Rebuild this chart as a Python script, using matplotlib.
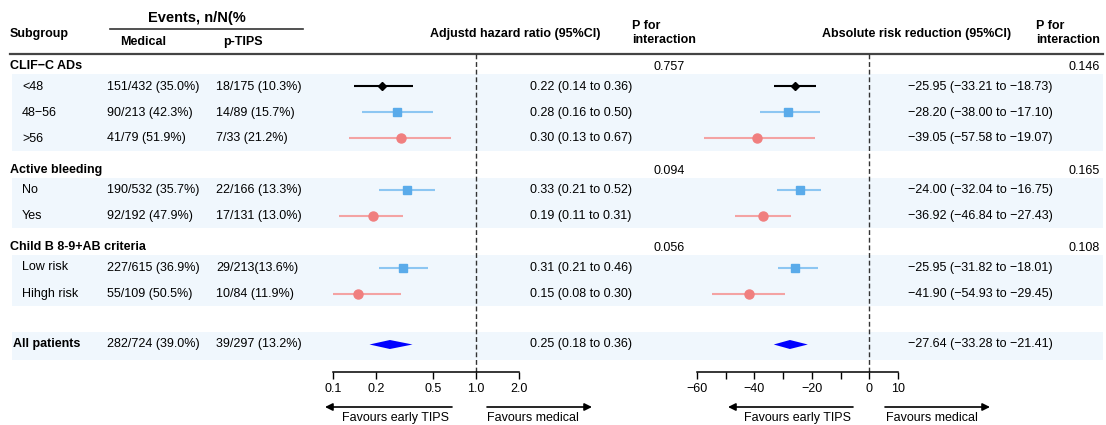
import matplotlib.pyplot as plt
from matplotlib.patches import Rectangle
from matplotlib.ticker import NullLocator

plt.rcParams['font.family'] = ['Liberation Sans', 'DejaVu Sans']

# ---- data ----
groups = ['CLIF\u2212C ADs', 'Active bleeding', 'Child B 8-9+AB criteria']
subgroups = [['<48', '48\u221256', '>56'], ['No', 'Yes'], ['Low risk', 'Hihgh risk']]
medical = [['151/432 (35.0%)', '90/213 (42.3%)', '41/79 (51.9%)'],
           ['190/532 (35.7%)', '92/192 (47.9%)'],
           ['227/615 (36.9%)', '55/109 (50.5%)']]
ptips = [['18/175 (10.3%)', '14/89 (15.7%)', '7/33 (21.2%)'],
         ['22/166 (13.3%)', '17/131 (13.0%)'],
         ['29/213(13.6%)', '10/84 (11.9%)']]
hr = [[0.22, 0.28, 0.30], [0.33, 0.19], [0.31, 0.15]]
hr_lo = [[0.14, 0.16, 0.13], [0.21, 0.11], [0.21, 0.08]]
hr_hi = [[0.36, 0.50, 0.67], [0.52, 0.31], [0.46, 0.30]]
arr = [[-25.95, -28.20, -39.05], [-24.00, -36.92], [-25.95, -41.90]]
arr_lo = [[-33.21, -38.00, -57.58], [-32.04, -46.84], [-31.82, -54.93]]
arr_hi = [[-18.73, -17.10, -19.07], [-16.75, -27.43], [-18.01, -29.45]]
p_hr = ['0.757', '0.094', '0.056']
p_arr = ['0.146', '0.165', '0.108']
kinds = [['k', 'b', 'r'], ['b', 'r'], ['b', 'r']]

all_medical = '282/724 (39.0%)'
all_ptips = '39/297 (13.2%)'
all_hr, all_hr_lo, all_hr_hi = 0.25, 0.18, 0.36
all_arr, all_arr_lo, all_arr_hi = -27.64, -33.28, -21.41

hr_ticks = [0.1, 0.2, 0.5, 1.0, 2.0]
hr_ticklabels = ['0.1', '0.2', '0.5', '1.0', '2.0']
arr_ticks = [-60, -50, -40, -30, -20, -10, 0, 10]
arr_ticklabels = ['\u221260', '', '\u221240', '', '\u221220', '', '0', '10']

# marker styles
styles = {'k': dict(marker='D', color='black', ms=4, lc='black'),
          'b': dict(marker='s', color='#5aabea', ms=6, lc='#8cc6f2'),
          'r': dict(marker='o', color='#f07f7f', ms=6.5, lc='#f4a3a3')}
band_color = '#f0f7fd'
FS = 9

W, H = 1106, 425
fig = plt.figure(figsize=(W / 100, H / 100), dpi=100)
bg = fig.add_axes([0, 0, 1, 1])
bg.set_xlim(0, W)
bg.set_ylim(H, 0)
bg.axis('off')

# forest axes placed in pixel layout
axis_y, top_y = 372, 54


def forest_axes(x0, x1):
    ax = fig.add_axes([x0 / W, (H - axis_y) / H, (x1 - x0) / W, (axis_y - top_y) / H])
    ax.set_facecolor('none')
    ax.set_ylim(axis_y, top_y)
    for s in ['top', 'left', 'right']:
        ax.spines[s].set_visible(False)
    ax.spines['bottom'].set_linewidth(1.1)
    ax.set_yticks([])
    ax.tick_params(axis='x', length=5, width=1.0, pad=3, labelsize=FS)
    return ax


ax1 = forest_axes(333, 519)
ax1.set_xscale('log')
ax1.set_xlim(0.1, 2.0)
ax1.set_xticks(hr_ticks)
ax1.set_xticklabels(hr_ticklabels)
ax1.xaxis.set_minor_locator(NullLocator())
ax1.axvline(1.0, color='#333333', lw=1, ls=(0, (3.5, 2)))

ax2 = forest_axes(697, 898)
ax2.set_xlim(-60, 10)
ax2.set_xticks(arr_ticks)
ax2.set_xticklabels(arr_ticklabels)
ax2.axvline(0, color='#333333', lw=1, ls=(0, (3.5, 2)))

# header
bg.text(197, 18, 'Events, n/N(%', fontsize=10.5, fontweight='bold', ha='center', va='center')
bg.plot([110, 303], [29, 29], color='#333333', lw=1.2)
bg.text(10, 34, 'Subgroup', fontsize=FS, fontweight='bold', va='center')
bg.text(143, 42, 'Medical', fontsize=FS, fontweight='bold', ha='center', va='center')
bg.text(243, 42, 'p-TIPS', fontsize=FS, fontweight='bold', ha='center', va='center')
bg.text(515, 34, 'Adjustd hazard ratio (95%CI)', fontsize=FS, fontweight='bold', ha='center', va='center')
bg.text(632, 33, 'P for\ninteraction', fontsize=FS, fontweight='bold', va='center', linespacing=1.25)
bg.text(917, 34, 'Absolute risk reduction (95%CI)', fontsize=FS, fontweight='bold', ha='center', va='center')
bg.text(1036, 33, 'P for\ninteraction', fontsize=FS, fontweight='bold', va='center', linespacing=1.25)
bg.plot([10, 1103], [54, 54], color='#444444', lw=1.6)

y = 66
for g in range(len(groups)):
    bg.text(10, y, groups[g], fontsize=FS, fontweight='bold', va='center')
    bg.text(685, y + 1, p_hr[g], fontsize=FS, ha='right', va='center')
    bg.text(1100, y + 1, p_arr[g], fontsize=FS, ha='right', va='center')
    ys = []
    y += 20.5
    for i in range(len(subgroups[g])):
        ys.append(y)
        st = styles[kinds[g][i]]
        bg.text(22, y, subgroups[g][i], fontsize=FS, va='center')
        bg.text(107, y, medical[g][i], fontsize=FS, va='center')
        bg.text(216, y, ptips[g][i], fontsize=FS, va='center')
        bg.text(530, y, '%.2f (%.2f to %.2f)' % (hr[g][i], hr_lo[g][i], hr_hi[g][i]), fontsize=FS, va='center')
        bg.text(908, y, ('%.2f (%.2f to %.2f)' % (arr[g][i], arr_lo[g][i], arr_hi[g][i])).replace('-', '\u2212'),
                fontsize=FS, va='center')
        ax1.plot([hr_lo[g][i], hr_hi[g][i]], [y, y], color=st['lc'], lw=1.5, solid_capstyle='butt')
        ax1.plot(hr[g][i], y, marker=st['marker'], color=st['color'], ms=st['ms'], ls='none')
        ax2.plot([arr_lo[g][i], arr_hi[g][i]], [y, y], color=st['lc'], lw=1.5, solid_capstyle='butt')
        ax2.plot(arr[g][i], y, marker=st['marker'], color=st['color'], ms=st['ms'], ls='none')
        y += 26
    bg.add_patch(Rectangle((12, ys[0] - 12.5), 1091, ys[-1] - ys[0] + 24.5, color=band_color, zorder=0, lw=0))
    y = ys[-1] + 31

# all patients
ya = ys[-1] + 51
bg.add_patch(Rectangle((12, ya - 13), 1091, 28, color=band_color, zorder=0, lw=0))
bg.text(13, ya, 'All patients', fontsize=FS, fontweight='bold', va='center')
bg.text(107, ya, all_medical, fontsize=FS, va='center')
bg.text(216, ya, all_ptips, fontsize=FS, va='center')
bg.text(530, ya, '%.2f (%.2f to %.2f)' % (all_hr, all_hr_lo, all_hr_hi), fontsize=FS, va='center')
bg.text(908, ya, ('%.2f (%.2f to %.2f)' % (all_arr, all_arr_lo, all_arr_hi)).replace('-', '\u2212'),
        fontsize=FS, va='center')
dh = 4.5
ax1.fill([all_hr_lo, all_hr, all_hr_hi, all_hr], [ya, ya - dh, ya, ya + dh], color='#0000ff', lw=0)
ax2.fill([all_arr_lo, all_arr, all_arr_hi, all_arr], [ya, ya - dh, ya, ya + dh], color='#0000ff', lw=0)

# favour arrows
ap = dict(arrowstyle='-|>', lw=1.2, color='black', mutation_scale=11, shrinkA=0, shrinkB=0)
bg.annotate('', xy=(325, 407), xytext=(452, 407), arrowprops=ap)
bg.annotate('', xy=(592, 407), xytext=(487, 407), arrowprops=ap)
bg.text(396, 418, 'Favours early TIPS', fontsize=FS, ha='center', va='center')
bg.text(533, 418, 'Favours medical', fontsize=FS, ha='center', va='center')
bg.annotate('', xy=(728, 407), xytext=(853, 407), arrowprops=ap)
bg.annotate('', xy=(990, 407), xytext=(885, 407), arrowprops=ap)
bg.text(798, 418, 'Favours early TIPS', fontsize=FS, ha='center', va='center')
bg.text(932, 418, 'Favours medical', fontsize=FS, ha='center', va='center')

fig.savefig('out.png', dpi=100)
